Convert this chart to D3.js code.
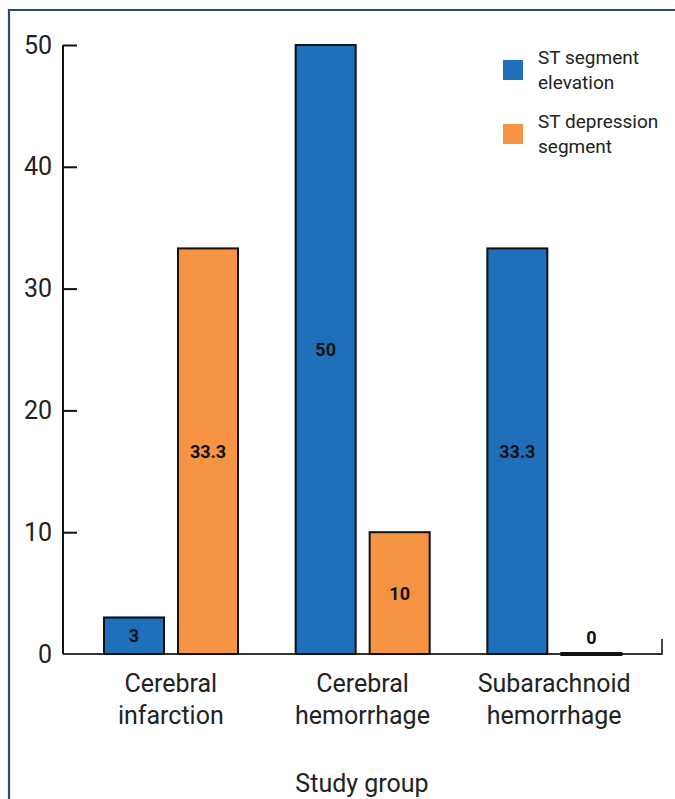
<!DOCTYPE html>
<html>
<head>
<meta charset="utf-8">
<script src="https://cdn.jsdelivr.net/npm/d3@7"></script>
<style>
  html, body { margin: 0; padding: 0; background: #fff; }
  svg { display: block; }
  text { font-family: Roboto, "Noto Sans", sans-serif; }
</style>
</head>
<body>
<svg id="chart" width="675" height="799"></svg>
<script>
const categories = [["Cerebral", "infarction"], ["Cerebral", "hemorrhage"], ["Subarachnoid", "hemorrhage"]];
const seriesNames = ["ST segment elevation", "ST depression segment"];
const legendLines = [["ST segment", "elevation"], ["ST depression", "segment"]];
const stElevation = [3, 50, 33.3];
const stDepression = [33.3, 10, 0];
const valueLabels = [["3", "50", "33.3"], ["33.3", "10", "0"]];
const yTicks = [0, 10, 20, 30, 40, 50];
const xTitle = "Study group";
const colors = ["#1f6fba", "#f79443"];

const svg = d3.select("#chart");
const catKeys = categories.map(c => c.join(" "));
const y = d3.scaleLinear().domain([0, 50]).range([654, 45]);
const x0 = d3.scaleBand().domain(catKeys).range([75, 650]).paddingInner(0);
const x1 = d3.scaleBand().domain(seriesNames).range([29, 163]).paddingInner(0.189);
const seriesValues = [stElevation, stDepression];

// frame
svg.append("path")
  .attr("d", "M9,810 L9,10 L690,10")
  .attr("fill", "none").attr("stroke", "#2c4a7e").attr("stroke-width", 2.2);

// baseline
svg.append("path")
  .attr("d", `M63,${y(0)} L662,${y(0)} L662,${y(0) - 15}`)
  .attr("fill", "none").attr("stroke", "#333").attr("stroke-width", 1.8);

// bars
seriesNames.forEach((s, si) => {
  const g = svg.append("g");
  catKeys.forEach((c, ci) => {
    const v = seriesValues[si][ci];
    const bx = x0(c) + x1(s);
    const bw = x1.bandwidth();
    const h = y(0) - y(v);
    if (h > 0) {
      g.append("rect")
        .attr("x", bx).attr("y", y(v))
        .attr("width", bw).attr("height", h)
        .attr("fill", colors[si]).attr("stroke", "#111").attr("stroke-width", 2);
    } else {
      g.append("line")
        .attr("x1", bx - 1).attr("x2", bx + bw + 1).attr("y1", y(0)).attr("y2", y(0))
        .attr("stroke", "#111").attr("stroke-width", 4);
    }
    const ly = h > 30 ? (y(v) + y(0)) / 2 : y(0) - 17;
    g.append("text")
      .attr("x", bx + bw / 2).attr("y", ly)
      .attr("text-anchor", "middle").attr("dominant-baseline", "central")
      .attr("font-size", 18).attr("font-weight", "bold").attr("fill", "#111")
      .text(valueLabels[si][ci]);
  });
});

// y axis
const yAxis = d3.axisRight(y).tickValues(yTicks).tickSize(14).tickFormat("");
const ga = svg.append("g").attr("transform", "translate(63,0)").call(yAxis);
ga.select(".domain").attr("d", `M0,${y(50)}V${y(0)}`).attr("stroke", "#111").attr("stroke-width", 2);
ga.selectAll(".tick line").attr("stroke", "#111").attr("stroke-width", 2)
  .filter(d => d === 0).remove();
yTicks.forEach(t => {
  svg.append("text")
    .attr("x", 52).attr("y", y(t)).attr("text-anchor", "end")
    .attr("dominant-baseline", "central")
    .attr("font-size", 25).attr("fill", "#222").text(t);
});

// category labels
categories.forEach((lines, i) => {
  const cx = x0(catKeys[i]) + x0.bandwidth() / 2;
  lines.forEach((ln, j) => {
    svg.append("text")
      .attr("x", cx).attr("y", 692 + j * 32).attr("text-anchor", "middle")
      .attr("font-size", 25).attr("fill", "#222").text(ln);
  });
});

// x title
svg.append("text").attr("x", 362).attr("y", 792).attr("text-anchor", "middle")
  .attr("font-size", 25).attr("fill", "#222").text(xTitle);

// legend
legendLines.forEach((lines, i) => {
  const ly = 60 + i * 64;
  svg.append("rect").attr("x", 503).attr("y", ly).attr("width", 20).attr("height", 20).attr("fill", colors[i]);
  lines.forEach((ln, j) => {
    svg.append("text").attr("x", 538).attr("y", ly + 4 + j * 25)
      .attr("font-size", 19).attr("fill", "#222").text(ln);
  });
});
</script>
</body>
</html>
